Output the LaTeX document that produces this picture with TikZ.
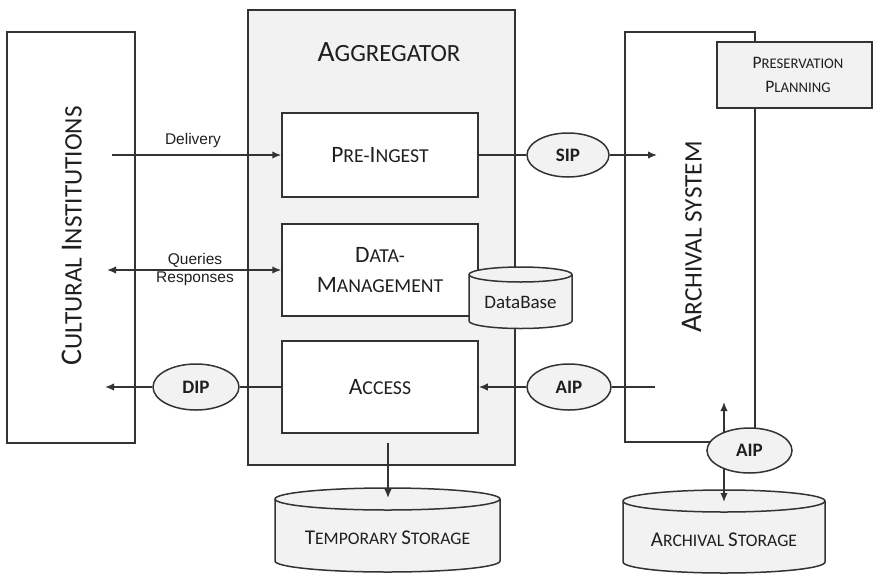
\documentclass[tikz,border=0pt]{standalone}
\usepackage{fontspec}
\setmainfont{Carlito}
\newfontfamily\arialish{Liberation Sans}
\usetikzlibrary{shapes.geometric,arrows.meta}

\definecolor{edge}{HTML}{333333}
\definecolor{panel}{HTML}{F2F2F2}
\definecolor{ink}{HTML}{1F1F1F}

% fake small capitals: first argument full size, second at 84 %
\makeatletter
\newcommand\SCap[2]{#1{\fontsize{\fpeval{0.84*\f@size}}{\f@baselineskip}\selectfont #2}}
\makeatother

\tikzset{
  frame/.style={draw=edge, line width=1.5pt, inner sep=0pt, text=ink},
  panelbox/.style={frame, fill=panel},
  whitebox/.style={frame, fill=white},
  pkg/.style={ellipse, frame, fill=panel, font=\bfseries\fontsize{19}{19}\selectfont},
  tip/.tip={Latex[length=9pt,width=7.5pt]},
  link/.style={draw=edge, line width=1.5pt},
  flow/.style={link, -tip},
  twoway/.style={link, tip-tip},
  note/.style={text=ink, inner sep=0pt, font=\arialish\fontsize{15.5}{18}\selectfont},
  store/.style={draw=edge, line width=1.5pt, fill=panel},
  title/.style={text=ink, inner sep=0pt},
}

\begin{document}
\begin{tikzpicture}[x=1pt,y=-1pt]
\useasboundingbox (0,0) rectangle (873,574);

% side systems and the aggregator frame
\node[whitebox, minimum width=128pt, minimum height=411pt] (ci) at (71,237.5) {};
\node[title, rotate=90, font=\fontsize{30}{30}\selectfont] (citxt) at (72,236)
  {\SCap{C}{ULTURAL }\SCap{I}{NSTITUTIONS}};

\node[panelbox, minimum width=267pt, minimum height=455pt] (agg) at (381.5,237.5) {};
\node[title, font=\fontsize{29.5}{29.5}\selectfont] (aggtxt) at (389,52) {\SCap{A}{GGREGATOR}};

\node[whitebox, minimum width=130pt, minimum height=410pt] (arch) at (690,237) {};
\node[title, rotate=90, font=\fontsize{30}{30}\selectfont] (archtxt) at (692,237)
  {\SCap{A}{RCHIVAL SYSTEM}};

\node[panelbox, minimum width=155pt, minimum height=66pt] (pp) at (794.5,75) {};
\node[title, align=center, font=\fontsize{17.5}{24}\selectfont] (pptxt) at (798,75)
  {\SCap{P}{RESERVATION}\\\SCap{P}{LANNING}};

% aggregator modules
\node[whitebox, minimum width=196pt, minimum height=84pt,
      font=\fontsize{23.5}{30}\selectfont] (pre) at (380,155) {\SCap{P}{RE-}\SCap{I}{NGEST}};
\node[whitebox, minimum width=196pt, minimum height=92pt, align=center,
      font=\fontsize{23.5}{30}\selectfont] (dm) at (380,270) {\SCap{D}{ATA-}\\\SCap{M}{ANAGEMENT}};
\node[whitebox, minimum width=196pt, minimum height=92pt,
      font=\fontsize{23.5}{30}\selectfont] (acc) at (380,387) {\SCap{A}{CCESS}};

% database cylinder
\draw[store] (469,274.5) -- (469,321)
  arc[start angle=180, end angle=360, x radius=51.5pt, y radius=7.5pt] -- (572,274.5)
  arc[start angle=0, end angle=180, x radius=51.5pt, y radius=7.5pt] -- cycle;
\draw[link] (469,274.5) arc[start angle=180, end angle=360, x radius=51.5pt, y radius=7.5pt];
\node[title, font=\fontsize{19}{19}\selectfont] (db) at (520.5,302) {DataBase};

% storage cylinders
\draw[store] (275,499) -- (275,561)
  arc[start angle=180, end angle=360, x radius=112.5pt, y radius=11pt] -- (500,499)
  arc[start angle=0, end angle=180, x radius=112.5pt, y radius=11pt] -- cycle;
\draw[link] (275,499) arc[start angle=180, end angle=360, x radius=112.5pt, y radius=11pt];
\node[title, font=\fontsize{21}{21}\selectfont] (tmp) at (387.5,538) {\SCap{T}{EMPORARY }\SCap{S}{TORAGE}};

\draw[store] (623,501) -- (623,562)
  arc[start angle=180, end angle=360, x radius=101pt, y radius=11pt] -- (825,501)
  arc[start angle=0, end angle=180, x radius=101pt, y radius=11pt] -- cycle;
\draw[link] (623,501) arc[start angle=180, end angle=360, x radius=101pt, y radius=11pt];
\node[title, font=\fontsize{21}{21}\selectfont] (ast) at (724,540) {\SCap{A}{RCHIVAL }\SCap{S}{TORAGE}};

% information packages
\node[pkg, minimum width=82pt, minimum height=44pt] (sip) at (568,155) {SIP};
\node[pkg, minimum width=86pt, minimum height=46pt] (dip) at (196,387) {DIP};
\node[pkg, minimum width=84pt, minimum height=46pt] (aip1) at (569,387) {AIP};

% connectors
\coordinate (delstart) at (112,155);
\draw[flow] (delstart) -- (pre.west);
\node[note] (deliv) at (193,140) {Delivery};

\coordinate (qend) at (107,270);
\draw[twoway] (qend) -- (dm.west);
\node[note] (qry) at (195,260) {Queries};
\node[note] (rsp) at (195,279) {Responses};

\coordinate (sipend) at (657,155);
\draw[link] (pre.east) -- (sip.west);
\draw[flow] (sip.east) -- (sipend);

\coordinate (dipend) at (105,387);
\draw[link] (acc.west) -- (dip.east);
\draw[flow] (dip.west) -- (dipend);

\coordinate (aipsrc) at (655,387);
\draw[link] (aipsrc) -- (aip1.east);
\draw[flow] (aip1.west) -- (acc.east);

\coordinate (tmpsrc) at (388,443);
\coordinate (tmpin) at (388,498);
\draw[flow] (tmpsrc) -- (tmpin);

\coordinate (aipup) at (724,402);
\coordinate (aipdn) at (724,502);
\draw[twoway] (aipup) -- (aipdn);
\node[pkg, minimum width=85pt, minimum height=45pt] (aip2) at (749.5,450.5) {AIP};
\end{tikzpicture}
\end{document}
